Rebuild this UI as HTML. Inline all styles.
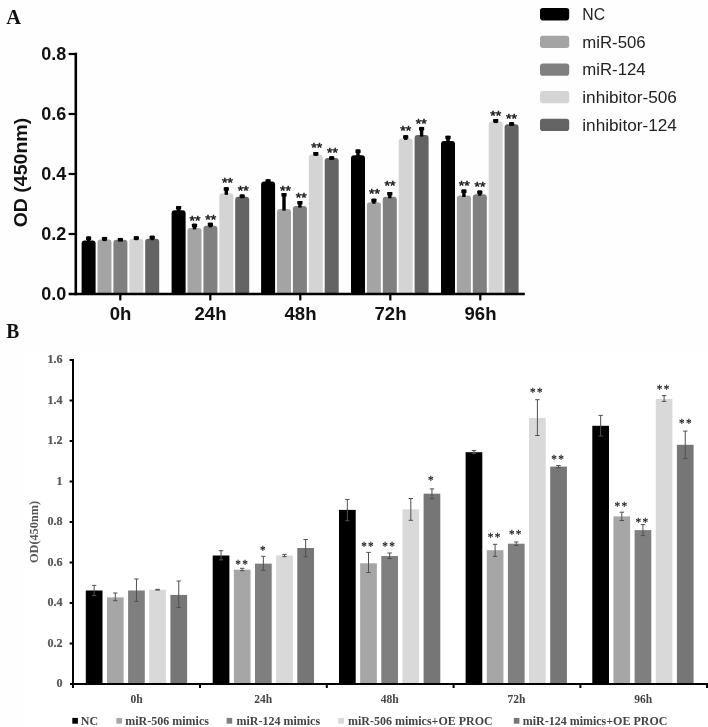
<!DOCTYPE html>
<html lang="en"><head><meta charset="utf-8"><title>Figure</title>
<style>html,body{margin:0;padding:0;background:#fff}svg{display:block}</style>
</head><body>
<svg width="708" height="727" viewBox="0 0 708 727">
<rect width="708" height="727" fill="#fefefe"/>
<rect x="24" y="350" width="684" height="377" fill="#fff"/>
<path d="M81.60 294.00V243.50Q81.60 240.50 84.60 240.50H92.60Q95.60 240.50 95.60 243.50V294.00Z" fill="#000000"/>
<rect x="86.90" y="236.40" width="3.4" height="5.60" fill="#000"/>
<rect x="86.00" y="236.40" width="5.2" height="3.5" rx="0.5" fill="#000"/>
<path d="M97.50 294.00V242.60Q97.50 239.60 100.50 239.60H108.50Q111.50 239.60 111.50 242.60V294.00Z" fill="#a4a4a4"/>
<rect x="102.80" y="236.90" width="3.4" height="4.20" fill="#000"/>
<rect x="101.90" y="236.90" width="5.2" height="3.5" rx="0.5" fill="#000"/>
<path d="M113.40 294.00V242.80Q113.40 239.80 116.40 239.80H124.40Q127.40 239.80 127.40 242.80V294.00Z" fill="#808080"/>
<rect x="118.70" y="237.90" width="3.4" height="3.40" fill="#000"/>
<rect x="117.80" y="237.90" width="5.2" height="3.5" rx="0.5" fill="#000"/>
<path d="M129.30 294.00V241.70Q129.30 238.70 132.30 238.70H140.30Q143.30 238.70 143.30 241.70V294.00Z" fill="#d4d4d4"/>
<rect x="134.60" y="236.30" width="3.4" height="3.90" fill="#000"/>
<rect x="133.70" y="236.30" width="5.2" height="3.5" rx="0.5" fill="#000"/>
<path d="M145.20 294.00V241.70Q145.20 238.70 148.20 238.70H156.20Q159.20 238.70 159.20 241.70V294.00Z" fill="#646464"/>
<rect x="150.50" y="235.70" width="3.4" height="4.50" fill="#000"/>
<rect x="149.60" y="235.70" width="5.2" height="3.5" rx="0.5" fill="#000"/>
<path d="M171.60 294.00V213.30Q171.60 210.30 174.60 210.30H182.60Q185.60 210.30 185.60 213.30V294.00Z" fill="#000000"/>
<rect x="176.90" y="206.00" width="3.4" height="5.80" fill="#000"/>
<rect x="176.00" y="206.00" width="5.2" height="3.5" rx="0.5" fill="#000"/>
<path d="M187.50 294.00V230.90Q187.50 227.90 190.50 227.90H198.50Q201.50 227.90 201.50 230.90V294.00Z" fill="#a4a4a4"/>
<rect x="192.80" y="223.70" width="3.4" height="5.70" fill="#000"/>
<rect x="191.90" y="223.70" width="5.2" height="3.5" rx="0.5" fill="#000"/>
<text transform="translate(195.10 224.55) scale(1.1300 1)" font-family="'Liberation Sans', Arial, sans-serif" font-size="12.5" text-anchor="middle" fill="#1a1a1a" stroke="#1a1a1a" stroke-width="0.5">**</text>
<path d="M203.40 294.00V228.80Q203.40 225.80 206.40 225.80H214.40Q217.40 225.80 217.40 228.80V294.00Z" fill="#808080"/>
<rect x="208.70" y="222.70" width="3.4" height="4.60" fill="#000"/>
<rect x="207.80" y="222.70" width="5.2" height="3.5" rx="0.5" fill="#000"/>
<text transform="translate(210.70 223.70) scale(1.1300 1)" font-family="'Liberation Sans', Arial, sans-serif" font-size="12.5" text-anchor="middle" fill="#1a1a1a" stroke="#1a1a1a" stroke-width="0.5">**</text>
<path d="M219.30 294.00V196.30Q219.30 193.30 222.30 193.30H230.30Q233.30 193.30 233.30 196.30V294.00Z" fill="#d4d4d4"/>
<rect x="224.60" y="187.20" width="3.4" height="7.60" fill="#000"/>
<rect x="223.70" y="187.20" width="5.2" height="3.5" rx="0.5" fill="#000"/>
<text transform="translate(227.60 186.80) scale(1.1300 1)" font-family="'Liberation Sans', Arial, sans-serif" font-size="12.5" text-anchor="middle" fill="#1a1a1a" stroke="#1a1a1a" stroke-width="0.5">**</text>
<path d="M235.20 294.00V199.80Q235.20 196.80 238.20 196.80H246.20Q249.20 196.80 249.20 199.80V294.00Z" fill="#646464"/>
<rect x="240.50" y="194.40" width="3.4" height="3.90" fill="#000"/>
<rect x="239.60" y="194.40" width="5.2" height="3.5" rx="0.5" fill="#000"/>
<text transform="translate(243.20 195.40) scale(1.1300 1)" font-family="'Liberation Sans', Arial, sans-serif" font-size="12.5" text-anchor="middle" fill="#1a1a1a" stroke="#1a1a1a" stroke-width="0.5">**</text>
<path d="M261.10 294.00V184.60Q261.10 181.60 264.10 181.60H272.10Q275.10 181.60 275.10 184.60V294.00Z" fill="#000000"/>
<rect x="266.40" y="179.20" width="3.4" height="3.90" fill="#000"/>
<rect x="265.50" y="179.20" width="5.2" height="3.5" rx="0.5" fill="#000"/>
<path d="M277.00 294.00V212.10Q277.00 209.10 280.00 209.10H288.00Q291.00 209.10 291.00 212.10V294.00Z" fill="#a4a4a4"/>
<rect x="282.30" y="193.10" width="3.4" height="17.50" fill="#000"/>
<rect x="281.40" y="193.10" width="5.2" height="3.5" rx="0.5" fill="#000"/>
<text transform="translate(285.50 194.70) scale(1.1300 1)" font-family="'Liberation Sans', Arial, sans-serif" font-size="12.5" text-anchor="middle" fill="#1a1a1a" stroke="#1a1a1a" stroke-width="0.5">**</text>
<path d="M292.90 294.00V209.10Q292.90 206.10 295.90 206.10H303.90Q306.90 206.10 306.90 209.10V294.00Z" fill="#808080"/>
<rect x="298.20" y="201.00" width="3.4" height="6.60" fill="#000"/>
<rect x="297.30" y="201.00" width="5.2" height="3.5" rx="0.5" fill="#000"/>
<text transform="translate(301.30 201.70) scale(1.1300 1)" font-family="'Liberation Sans', Arial, sans-serif" font-size="12.5" text-anchor="middle" fill="#1a1a1a" stroke="#1a1a1a" stroke-width="0.5">**</text>
<path d="M308.80 294.00V157.40Q308.80 154.40 311.80 154.40H319.80Q322.80 154.40 322.80 157.40V294.00Z" fill="#d4d4d4"/>
<rect x="314.10" y="152.00" width="3.4" height="3.90" fill="#000"/>
<rect x="313.20" y="152.00" width="5.2" height="3.5" rx="0.5" fill="#000"/>
<text transform="translate(316.70 152.30) scale(1.1300 1)" font-family="'Liberation Sans', Arial, sans-serif" font-size="12.5" text-anchor="middle" fill="#1a1a1a" stroke="#1a1a1a" stroke-width="0.5">**</text>
<path d="M324.70 294.00V161.00Q324.70 158.00 327.70 158.00H335.70Q338.70 158.00 338.70 161.00V294.00Z" fill="#646464"/>
<rect x="330.00" y="156.30" width="3.4" height="3.20" fill="#000"/>
<rect x="329.10" y="156.30" width="5.2" height="3.5" rx="0.5" fill="#000"/>
<text transform="translate(332.40 157.30) scale(1.1300 1)" font-family="'Liberation Sans', Arial, sans-serif" font-size="12.5" text-anchor="middle" fill="#1a1a1a" stroke="#1a1a1a" stroke-width="0.5">**</text>
<path d="M351.00 294.00V158.30Q351.00 155.30 354.00 155.30H362.00Q365.00 155.30 365.00 158.30V294.00Z" fill="#000000"/>
<rect x="356.30" y="149.50" width="3.4" height="7.30" fill="#000"/>
<rect x="355.40" y="149.50" width="5.2" height="3.5" rx="0.5" fill="#000"/>
<path d="M366.90 294.00V205.20Q366.90 202.20 369.90 202.20H377.90Q380.90 202.20 380.90 205.20V294.00Z" fill="#a4a4a4"/>
<rect x="372.20" y="198.70" width="3.4" height="5.00" fill="#000"/>
<rect x="371.30" y="198.70" width="5.2" height="3.5" rx="0.5" fill="#000"/>
<text transform="translate(374.40 198.45) scale(1.1300 1)" font-family="'Liberation Sans', Arial, sans-serif" font-size="12.5" text-anchor="middle" fill="#1a1a1a" stroke="#1a1a1a" stroke-width="0.5">**</text>
<path d="M382.80 294.00V199.80Q382.80 196.80 385.80 196.80H393.80Q396.80 196.80 396.80 199.80V294.00Z" fill="#808080"/>
<rect x="388.10" y="192.00" width="3.4" height="6.30" fill="#000"/>
<rect x="387.20" y="192.00" width="5.2" height="3.5" rx="0.5" fill="#000"/>
<text transform="translate(390.10 190.40) scale(1.1300 1)" font-family="'Liberation Sans', Arial, sans-serif" font-size="12.5" text-anchor="middle" fill="#1a1a1a" stroke="#1a1a1a" stroke-width="0.5">**</text>
<path d="M398.70 294.00V141.40Q398.70 138.40 401.70 138.40H409.70Q412.70 138.40 412.70 141.40V294.00Z" fill="#d4d4d4"/>
<rect x="404.00" y="135.30" width="3.4" height="4.60" fill="#000"/>
<rect x="403.10" y="135.30" width="5.2" height="3.5" rx="0.5" fill="#000"/>
<text transform="translate(405.70 134.55) scale(1.1300 1)" font-family="'Liberation Sans', Arial, sans-serif" font-size="12.5" text-anchor="middle" fill="#1a1a1a" stroke="#1a1a1a" stroke-width="0.5">**</text>
<path d="M414.60 294.00V138.10Q414.60 135.10 417.60 135.10H425.60Q428.60 135.10 428.60 138.10V294.00Z" fill="#646464"/>
<rect x="419.90" y="126.90" width="3.4" height="9.70" fill="#000"/>
<rect x="419.00" y="126.90" width="5.2" height="3.5" rx="0.5" fill="#000"/>
<text transform="translate(421.35 127.70) scale(1.1300 1)" font-family="'Liberation Sans', Arial, sans-serif" font-size="12.5" text-anchor="middle" fill="#1a1a1a" stroke="#1a1a1a" stroke-width="0.5">**</text>
<path d="M441.00 294.00V144.10Q441.00 141.10 444.00 141.10H452.00Q455.00 141.10 455.00 144.10V294.00Z" fill="#000000"/>
<rect x="446.30" y="135.80" width="3.4" height="6.80" fill="#000"/>
<rect x="445.40" y="135.80" width="5.2" height="3.5" rx="0.5" fill="#000"/>
<path d="M456.90 294.00V198.50Q456.90 195.50 459.90 195.50H467.90Q470.90 195.50 470.90 198.50V294.00Z" fill="#a4a4a4"/>
<rect x="462.20" y="189.50" width="3.4" height="7.50" fill="#000"/>
<rect x="461.30" y="189.50" width="5.2" height="3.5" rx="0.5" fill="#000"/>
<text transform="translate(464.20 189.95) scale(1.1300 1)" font-family="'Liberation Sans', Arial, sans-serif" font-size="12.5" text-anchor="middle" fill="#1a1a1a" stroke="#1a1a1a" stroke-width="0.5">**</text>
<path d="M472.80 294.00V197.20Q472.80 194.20 475.80 194.20H483.80Q486.80 194.20 486.80 197.20V294.00Z" fill="#808080"/>
<rect x="478.10" y="190.60" width="3.4" height="5.10" fill="#000"/>
<rect x="477.20" y="190.60" width="5.2" height="3.5" rx="0.5" fill="#000"/>
<text transform="translate(479.95 191.00) scale(1.1300 1)" font-family="'Liberation Sans', Arial, sans-serif" font-size="12.5" text-anchor="middle" fill="#1a1a1a" stroke="#1a1a1a" stroke-width="0.5">**</text>
<path d="M488.70 294.00V124.60Q488.70 121.60 491.70 121.60H499.70Q502.70 121.60 502.70 124.60V294.00Z" fill="#d4d4d4"/>
<rect x="494.00" y="119.00" width="3.4" height="4.10" fill="#000"/>
<rect x="493.10" y="119.00" width="5.2" height="3.5" rx="0.5" fill="#000"/>
<text transform="translate(495.85 120.40) scale(1.1300 1)" font-family="'Liberation Sans', Arial, sans-serif" font-size="12.5" text-anchor="middle" fill="#1a1a1a" stroke="#1a1a1a" stroke-width="0.5">**</text>
<path d="M504.60 294.00V127.20Q504.60 124.20 507.60 124.20H515.60Q518.60 124.20 518.60 127.20V294.00Z" fill="#646464"/>
<rect x="509.90" y="122.20" width="3.4" height="3.50" fill="#000"/>
<rect x="509.00" y="122.20" width="5.2" height="3.5" rx="0.5" fill="#000"/>
<text transform="translate(511.50 122.90) scale(1.1300 1)" font-family="'Liberation Sans', Arial, sans-serif" font-size="12.5" text-anchor="middle" fill="#1a1a1a" stroke="#1a1a1a" stroke-width="0.5">**</text>
<rect x="74.5" y="52.7" width="2.6" height="242.55" fill="#000"/>
<rect x="68.6" y="292.75" width="456.20" height="2.5" fill="#000"/>
<text transform="translate(66.40 299.60) scale(1.0300 1)" font-family="'Liberation Sans', Arial, sans-serif" font-size="17.5" font-weight="700" text-anchor="end" fill="#111">0.0</text>
<rect x="68.6" y="232.90" width="7" height="2.2" fill="#000"/>
<text transform="translate(66.40 239.60) scale(1.0300 1)" font-family="'Liberation Sans', Arial, sans-serif" font-size="17.5" font-weight="700" text-anchor="end" fill="#111">0.2</text>
<rect x="68.6" y="172.90" width="7" height="2.2" fill="#000"/>
<text transform="translate(66.40 179.60) scale(1.0300 1)" font-family="'Liberation Sans', Arial, sans-serif" font-size="17.5" font-weight="700" text-anchor="end" fill="#111">0.4</text>
<rect x="68.6" y="112.90" width="7" height="2.2" fill="#000"/>
<text transform="translate(66.40 119.60) scale(1.0300 1)" font-family="'Liberation Sans', Arial, sans-serif" font-size="17.5" font-weight="700" text-anchor="end" fill="#111">0.6</text>
<rect x="68.6" y="52.90" width="7" height="2.2" fill="#000"/>
<text transform="translate(66.40 59.60) scale(1.0300 1)" font-family="'Liberation Sans', Arial, sans-serif" font-size="17.5" font-weight="700" text-anchor="end" fill="#111">0.8</text>
<rect x="119.20" y="294.00" width="2.2" height="6.4" fill="#000"/>
<text transform="translate(120.50 319.70) scale(1.0200 1)" font-family="'Liberation Sans', Arial, sans-serif" font-size="18.2" font-weight="700" text-anchor="middle" fill="#111">0h</text>
<rect x="209.20" y="294.00" width="2.2" height="6.4" fill="#000"/>
<text transform="translate(210.50 319.70) scale(1.0200 1)" font-family="'Liberation Sans', Arial, sans-serif" font-size="18.2" font-weight="700" text-anchor="middle" fill="#111">24h</text>
<rect x="299.20" y="294.00" width="2.2" height="6.4" fill="#000"/>
<text transform="translate(300.50 319.70) scale(1.0200 1)" font-family="'Liberation Sans', Arial, sans-serif" font-size="18.2" font-weight="700" text-anchor="middle" fill="#111">48h</text>
<rect x="389.20" y="294.00" width="2.2" height="6.4" fill="#000"/>
<text transform="translate(390.50 319.70) scale(1.0200 1)" font-family="'Liberation Sans', Arial, sans-serif" font-size="18.2" font-weight="700" text-anchor="middle" fill="#111">72h</text>
<rect x="479.20" y="294.00" width="2.2" height="6.4" fill="#000"/>
<text transform="translate(480.50 319.70) scale(1.0200 1)" font-family="'Liberation Sans', Arial, sans-serif" font-size="18.2" font-weight="700" text-anchor="middle" fill="#111">96h</text>
<text transform="translate(26.70 172.60) rotate(-90) scale(1.0850 1)" font-family="'Liberation Sans', Arial, sans-serif" font-size="18" font-weight="700" text-anchor="middle" fill="#111">OD (450nm)</text>
<text transform="translate(6.30 23.90) scale(0.9300 1)" font-family="'Liberation Serif', 'Times New Roman', serif" font-size="22" font-weight="700" fill="#111">A</text>
<text transform="translate(6.20 337.90) scale(0.8850 1)" font-family="'Liberation Serif', 'Times New Roman', serif" font-size="22" font-weight="700" fill="#111">B</text>
<rect x="540" y="8.10" width="29.2" height="12.3" rx="2.8" fill="#000000"/>
<text transform="translate(582.30 20.00) scale(0.9860 1)" font-family="'Liberation Sans', Arial, sans-serif" font-size="16" fill="#222">NC</text>
<rect x="540" y="35.75" width="29.2" height="12.3" rx="2.8" fill="#a4a4a4"/>
<text transform="translate(582.30 47.65) scale(1.0490 1)" font-family="'Liberation Sans', Arial, sans-serif" font-size="16" fill="#222">miR-506</text>
<rect x="540" y="63.40" width="29.2" height="12.3" rx="2.8" fill="#808080"/>
<text transform="translate(582.30 75.30) scale(1.0490 1)" font-family="'Liberation Sans', Arial, sans-serif" font-size="16" fill="#222">miR-124</text>
<rect x="540" y="91.05" width="29.2" height="12.3" rx="2.8" fill="#d4d4d4"/>
<text transform="translate(582.30 102.95) scale(1.0740 1)" font-family="'Liberation Sans', Arial, sans-serif" font-size="16" fill="#222">inhibitor-506</text>
<rect x="540" y="118.70" width="29.2" height="12.3" rx="2.8" fill="#646464"/>
<text transform="translate(582.30 130.60) scale(1.0740 1)" font-family="'Liberation Sans', Arial, sans-serif" font-size="16" fill="#222">inhibitor-124</text>
<rect x="85.80" y="590.50" width="16.7" height="93.00" fill="#000000"/>
<path d="M94.15 585.40V595.60M91.95 585.40h4.4M91.95 595.60h4.4" stroke="#505050" stroke-width="1.0" fill="none"/>
<rect x="106.95" y="597.40" width="16.7" height="86.10" fill="#a6a6a6"/>
<path d="M115.30 593.00V600.70M113.10 593.00h4.4M113.10 600.70h4.4" stroke="#505050" stroke-width="1.0" fill="none"/>
<rect x="128.10" y="590.50" width="16.7" height="93.00" fill="#7f7f7f"/>
<path d="M136.45 579.00V601.40M134.25 579.00h4.4M134.25 601.40h4.4" stroke="#505050" stroke-width="1.0" fill="none"/>
<rect x="149.25" y="589.70" width="16.7" height="93.80" fill="#d9d9d9"/>
<path d="M157.60 589.30V590.10M155.40 589.30h4.4M155.40 590.10h4.4" stroke="#505050" stroke-width="1.0" fill="none"/>
<rect x="170.40" y="594.90" width="16.7" height="88.60" fill="#767676"/>
<path d="M178.75 581.00V607.50M176.55 581.00h4.4M176.55 607.50h4.4" stroke="#505050" stroke-width="1.0" fill="none"/>
<rect x="212.70" y="555.50" width="16.7" height="128.00" fill="#000000"/>
<path d="M221.05 550.70V559.90M218.85 550.70h4.4M218.85 559.90h4.4" stroke="#505050" stroke-width="1.0" fill="none"/>
<rect x="233.85" y="569.70" width="16.7" height="113.80" fill="#a6a6a6"/>
<path d="M242.20 568.30V570.70M240.00 568.30h4.4M240.00 570.70h4.4" stroke="#505050" stroke-width="1.0" fill="none"/>
<text transform="translate(242.20 567.90) scale(0.8400 1)" font-family="'Liberation Serif', 'Times New Roman', serif" font-size="13.4" text-anchor="middle" fill="#1a1a1a" letter-spacing="1.6" stroke="#1a1a1a" stroke-width="0.25">**</text>
<rect x="255.00" y="563.60" width="16.7" height="119.90" fill="#7f7f7f"/>
<path d="M263.35 556.30V570.30M261.15 556.30h4.4M261.15 570.30h4.4" stroke="#505050" stroke-width="1.0" fill="none"/>
<text transform="translate(263.45 554.10) scale(0.8400 1)" font-family="'Liberation Serif', 'Times New Roman', serif" font-size="13.4" text-anchor="middle" fill="#1a1a1a" letter-spacing="1.6" stroke="#1a1a1a" stroke-width="0.25">*</text>
<rect x="276.15" y="555.50" width="16.7" height="128.00" fill="#d9d9d9"/>
<path d="M284.50 554.40V556.60M282.30 554.40h4.4M282.30 556.60h4.4" stroke="#505050" stroke-width="1.0" fill="none"/>
<rect x="297.30" y="548.00" width="16.7" height="135.50" fill="#767676"/>
<path d="M305.65 539.50V556.80M303.45 539.50h4.4M303.45 556.80h4.4" stroke="#505050" stroke-width="1.0" fill="none"/>
<rect x="339.00" y="509.90" width="16.7" height="173.60" fill="#000000"/>
<path d="M347.35 499.40V520.80M345.15 499.40h4.4M345.15 520.80h4.4" stroke="#505050" stroke-width="1.0" fill="none"/>
<rect x="360.15" y="563.30" width="16.7" height="120.20" fill="#a6a6a6"/>
<path d="M368.50 552.40V572.50M366.30 552.40h4.4M366.30 572.50h4.4" stroke="#505050" stroke-width="1.0" fill="none"/>
<text transform="translate(368.10 550.10) scale(0.8400 1)" font-family="'Liberation Serif', 'Times New Roman', serif" font-size="13.4" text-anchor="middle" fill="#1a1a1a" letter-spacing="1.6" stroke="#1a1a1a" stroke-width="0.25">**</text>
<rect x="381.30" y="556.00" width="16.7" height="127.50" fill="#7f7f7f"/>
<path d="M389.65 553.00V558.60M387.45 553.00h4.4M387.45 558.60h4.4" stroke="#505050" stroke-width="1.0" fill="none"/>
<text transform="translate(389.25 550.20) scale(0.8400 1)" font-family="'Liberation Serif', 'Times New Roman', serif" font-size="13.4" text-anchor="middle" fill="#1a1a1a" letter-spacing="1.6" stroke="#1a1a1a" stroke-width="0.25">**</text>
<rect x="402.45" y="509.30" width="16.7" height="174.20" fill="#d9d9d9"/>
<path d="M410.80 498.50V520.30M408.60 498.50h4.4M408.60 520.30h4.4" stroke="#505050" stroke-width="1.0" fill="none"/>
<rect x="423.60" y="493.70" width="16.7" height="189.80" fill="#767676"/>
<path d="M431.95 488.90V498.80M429.75 488.90h4.4M429.75 498.80h4.4" stroke="#505050" stroke-width="1.0" fill="none"/>
<text transform="translate(431.55 484.40) scale(0.8400 1)" font-family="'Liberation Serif', 'Times New Roman', serif" font-size="13.4" text-anchor="middle" fill="#1a1a1a" letter-spacing="1.6" stroke="#1a1a1a" stroke-width="0.25">*</text>
<rect x="465.60" y="452.20" width="16.7" height="231.30" fill="#000000"/>
<path d="M473.95 450.50V453.60M471.75 450.50h4.4M471.75 453.60h4.4" stroke="#505050" stroke-width="1.0" fill="none"/>
<rect x="486.75" y="550.20" width="16.7" height="133.30" fill="#a6a6a6"/>
<path d="M495.10 544.30V556.40M492.90 544.30h4.4M492.90 556.40h4.4" stroke="#505050" stroke-width="1.0" fill="none"/>
<text transform="translate(494.70 540.80) scale(0.8400 1)" font-family="'Liberation Serif', 'Times New Roman', serif" font-size="13.4" text-anchor="middle" fill="#1a1a1a" letter-spacing="1.6" stroke="#1a1a1a" stroke-width="0.25">**</text>
<rect x="507.90" y="543.70" width="16.7" height="139.80" fill="#7f7f7f"/>
<path d="M516.25 542.00V545.40M514.05 542.00h4.4M514.05 545.40h4.4" stroke="#505050" stroke-width="1.0" fill="none"/>
<text transform="translate(515.85 538.00) scale(0.8400 1)" font-family="'Liberation Serif', 'Times New Roman', serif" font-size="13.4" text-anchor="middle" fill="#1a1a1a" letter-spacing="1.6" stroke="#1a1a1a" stroke-width="0.25">**</text>
<rect x="529.05" y="418.00" width="16.7" height="265.50" fill="#d9d9d9"/>
<path d="M537.40 399.70V435.50M535.20 399.70h4.4M535.20 435.50h4.4" stroke="#505050" stroke-width="1.0" fill="none"/>
<text transform="translate(537.00 396.00) scale(0.8400 1)" font-family="'Liberation Serif', 'Times New Roman', serif" font-size="13.4" text-anchor="middle" fill="#1a1a1a" letter-spacing="1.6" stroke="#1a1a1a" stroke-width="0.25">**</text>
<rect x="550.20" y="466.60" width="16.7" height="216.90" fill="#767676"/>
<path d="M558.55 465.50V467.70M556.35 465.50h4.4M556.35 467.70h4.4" stroke="#505050" stroke-width="1.0" fill="none"/>
<text transform="translate(558.15 462.60) scale(0.8400 1)" font-family="'Liberation Serif', 'Times New Roman', serif" font-size="13.4" text-anchor="middle" fill="#1a1a1a" letter-spacing="1.6" stroke="#1a1a1a" stroke-width="0.25">**</text>
<rect x="592.30" y="425.80" width="16.7" height="257.70" fill="#000000"/>
<path d="M600.65 415.40V436.00M598.45 415.40h4.4M598.45 436.00h4.4" stroke="#505050" stroke-width="1.0" fill="none"/>
<rect x="613.45" y="516.40" width="16.7" height="167.10" fill="#a6a6a6"/>
<path d="M621.80 512.20V520.50M619.60 512.20h4.4M619.60 520.50h4.4" stroke="#505050" stroke-width="1.0" fill="none"/>
<text transform="translate(621.40 510.40) scale(0.8400 1)" font-family="'Liberation Serif', 'Times New Roman', serif" font-size="13.4" text-anchor="middle" fill="#1a1a1a" letter-spacing="1.6" stroke="#1a1a1a" stroke-width="0.25">**</text>
<rect x="634.60" y="530.10" width="16.7" height="153.40" fill="#7f7f7f"/>
<path d="M642.95 524.60V535.60M640.75 524.60h4.4M640.75 535.60h4.4" stroke="#505050" stroke-width="1.0" fill="none"/>
<text transform="translate(642.55 526.30) scale(0.8400 1)" font-family="'Liberation Serif', 'Times New Roman', serif" font-size="13.4" text-anchor="middle" fill="#1a1a1a" letter-spacing="1.6" stroke="#1a1a1a" stroke-width="0.25">**</text>
<rect x="655.75" y="398.90" width="16.7" height="284.60" fill="#d9d9d9"/>
<path d="M664.10 395.60V401.40M661.90 395.60h4.4M661.90 401.40h4.4" stroke="#505050" stroke-width="1.0" fill="none"/>
<text transform="translate(663.70 393.40) scale(0.8400 1)" font-family="'Liberation Serif', 'Times New Roman', serif" font-size="13.4" text-anchor="middle" fill="#1a1a1a" letter-spacing="1.6" stroke="#1a1a1a" stroke-width="0.25">**</text>
<rect x="676.90" y="444.80" width="16.7" height="238.70" fill="#767676"/>
<path d="M685.25 431.10V458.60M683.05 431.10h4.4M683.05 458.60h4.4" stroke="#505050" stroke-width="1.0" fill="none"/>
<text transform="translate(686.05 427.20) scale(0.8400 1)" font-family="'Liberation Serif', 'Times New Roman', serif" font-size="13.4" text-anchor="middle" fill="#1a1a1a" letter-spacing="1.6" stroke="#1a1a1a" stroke-width="0.25">**</text>
<rect x="72" y="359" width="2" height="329" fill="#000"/>
<rect x="70" y="683" width="638" height="2" fill="#000"/>
<text transform="translate(62.60 687.30) scale(0.9300 1)" font-family="'Liberation Serif', 'Times New Roman', serif" font-size="13" font-weight="700" text-anchor="end" fill="#555" stroke="#555" stroke-width="0.2">0</text>
<rect x="69.6" y="642.50" width="3" height="2" fill="#000"/>
<text transform="translate(62.60 646.80) scale(0.9300 1)" font-family="'Liberation Serif', 'Times New Roman', serif" font-size="13" font-weight="700" text-anchor="end" fill="#555" stroke="#555" stroke-width="0.2">0.2</text>
<rect x="69.6" y="602.00" width="3" height="2" fill="#000"/>
<text transform="translate(62.60 606.30) scale(0.9300 1)" font-family="'Liberation Serif', 'Times New Roman', serif" font-size="13" font-weight="700" text-anchor="end" fill="#555" stroke="#555" stroke-width="0.2">0.4</text>
<rect x="69.6" y="561.50" width="3" height="2" fill="#000"/>
<text transform="translate(62.60 565.80) scale(0.9300 1)" font-family="'Liberation Serif', 'Times New Roman', serif" font-size="13" font-weight="700" text-anchor="end" fill="#555" stroke="#555" stroke-width="0.2">0.6</text>
<rect x="69.6" y="521.00" width="3" height="2" fill="#000"/>
<text transform="translate(62.60 525.30) scale(0.9300 1)" font-family="'Liberation Serif', 'Times New Roman', serif" font-size="13" font-weight="700" text-anchor="end" fill="#555" stroke="#555" stroke-width="0.2">0.8</text>
<rect x="69.6" y="480.50" width="3" height="2" fill="#000"/>
<text transform="translate(62.60 484.80) scale(0.9300 1)" font-family="'Liberation Serif', 'Times New Roman', serif" font-size="13" font-weight="700" text-anchor="end" fill="#555" stroke="#555" stroke-width="0.2">1</text>
<rect x="69.6" y="440.00" width="3" height="2" fill="#000"/>
<text transform="translate(62.60 444.30) scale(0.9300 1)" font-family="'Liberation Serif', 'Times New Roman', serif" font-size="13" font-weight="700" text-anchor="end" fill="#555" stroke="#555" stroke-width="0.2">1.2</text>
<rect x="69.6" y="399.50" width="3" height="2" fill="#000"/>
<text transform="translate(62.60 403.80) scale(0.9300 1)" font-family="'Liberation Serif', 'Times New Roman', serif" font-size="13" font-weight="700" text-anchor="end" fill="#555" stroke="#555" stroke-width="0.2">1.4</text>
<rect x="69.6" y="359.00" width="3" height="2" fill="#000"/>
<text transform="translate(62.60 363.30) scale(0.9300 1)" font-family="'Liberation Serif', 'Times New Roman', serif" font-size="13" font-weight="700" text-anchor="end" fill="#555" stroke="#555" stroke-width="0.2">1.6</text>
<rect x="199.00" y="684" width="2" height="4" fill="#000"/>
<rect x="325.80" y="684" width="2" height="4" fill="#000"/>
<rect x="452.60" y="684" width="2" height="4" fill="#000"/>
<rect x="579.40" y="684" width="2" height="4" fill="#000"/>
<rect x="706.00" y="684" width="2" height="4" fill="#000"/>
<text transform="translate(136.50 702.80) scale(0.9300 1)" font-family="'Liberation Serif', 'Times New Roman', serif" font-size="12.4" font-weight="700" text-anchor="middle" fill="#444">0h</text>
<text transform="translate(263.15 702.80) scale(0.9300 1)" font-family="'Liberation Serif', 'Times New Roman', serif" font-size="12.4" font-weight="700" text-anchor="middle" fill="#444">24h</text>
<text transform="translate(389.80 702.80) scale(0.9300 1)" font-family="'Liberation Serif', 'Times New Roman', serif" font-size="12.4" font-weight="700" text-anchor="middle" fill="#444">48h</text>
<text transform="translate(516.45 702.80) scale(0.9300 1)" font-family="'Liberation Serif', 'Times New Roman', serif" font-size="12.4" font-weight="700" text-anchor="middle" fill="#444">72h</text>
<text transform="translate(643.10 702.80) scale(0.9300 1)" font-family="'Liberation Serif', 'Times New Roman', serif" font-size="12.4" font-weight="700" text-anchor="middle" fill="#444">96h</text>
<text transform="translate(37.80 532.00) rotate(-90) scale(0.9900 1)" font-family="'Liberation Serif', 'Times New Roman', serif" font-size="12.4" font-weight="700" text-anchor="middle" fill="#555">OD(450nm)</text>
<rect x="72.3" y="717.9" width="5.6" height="5.8" fill="#000000"/>
<text transform="translate(80.80 724.50) scale(0.9450 1)" font-family="'Liberation Serif', 'Times New Roman', serif" font-size="12.7" font-weight="700" fill="#444">NC</text>
<rect x="116.4" y="717.9" width="5.6" height="5.8" fill="#a6a6a6"/>
<text transform="translate(125.30 724.50) scale(0.9450 1)" font-family="'Liberation Serif', 'Times New Roman', serif" font-size="12.7" font-weight="700" fill="#444">miR-506 mimics</text>
<rect x="226.6" y="717.9" width="5.6" height="5.8" fill="#7f7f7f"/>
<text transform="translate(236.50 724.50) scale(0.9450 1)" font-family="'Liberation Serif', 'Times New Roman', serif" font-size="12.7" font-weight="700" fill="#444">miR-124 mimics</text>
<rect x="338.3" y="717.9" width="5.6" height="5.8" fill="#d9d9d9"/>
<text transform="translate(348.00 724.50) scale(0.9450 1)" font-family="'Liberation Serif', 'Times New Roman', serif" font-size="12.7" font-weight="700" fill="#444">miR-506 mimics+OE PROC</text>
<rect x="513.8" y="717.9" width="5.6" height="5.8" fill="#767676"/>
<text transform="translate(522.70 724.50) scale(0.9450 1)" font-family="'Liberation Serif', 'Times New Roman', serif" font-size="12.7" font-weight="700" fill="#444">miR-124 mimics+OE PROC</text>
</svg>
</body></html>
